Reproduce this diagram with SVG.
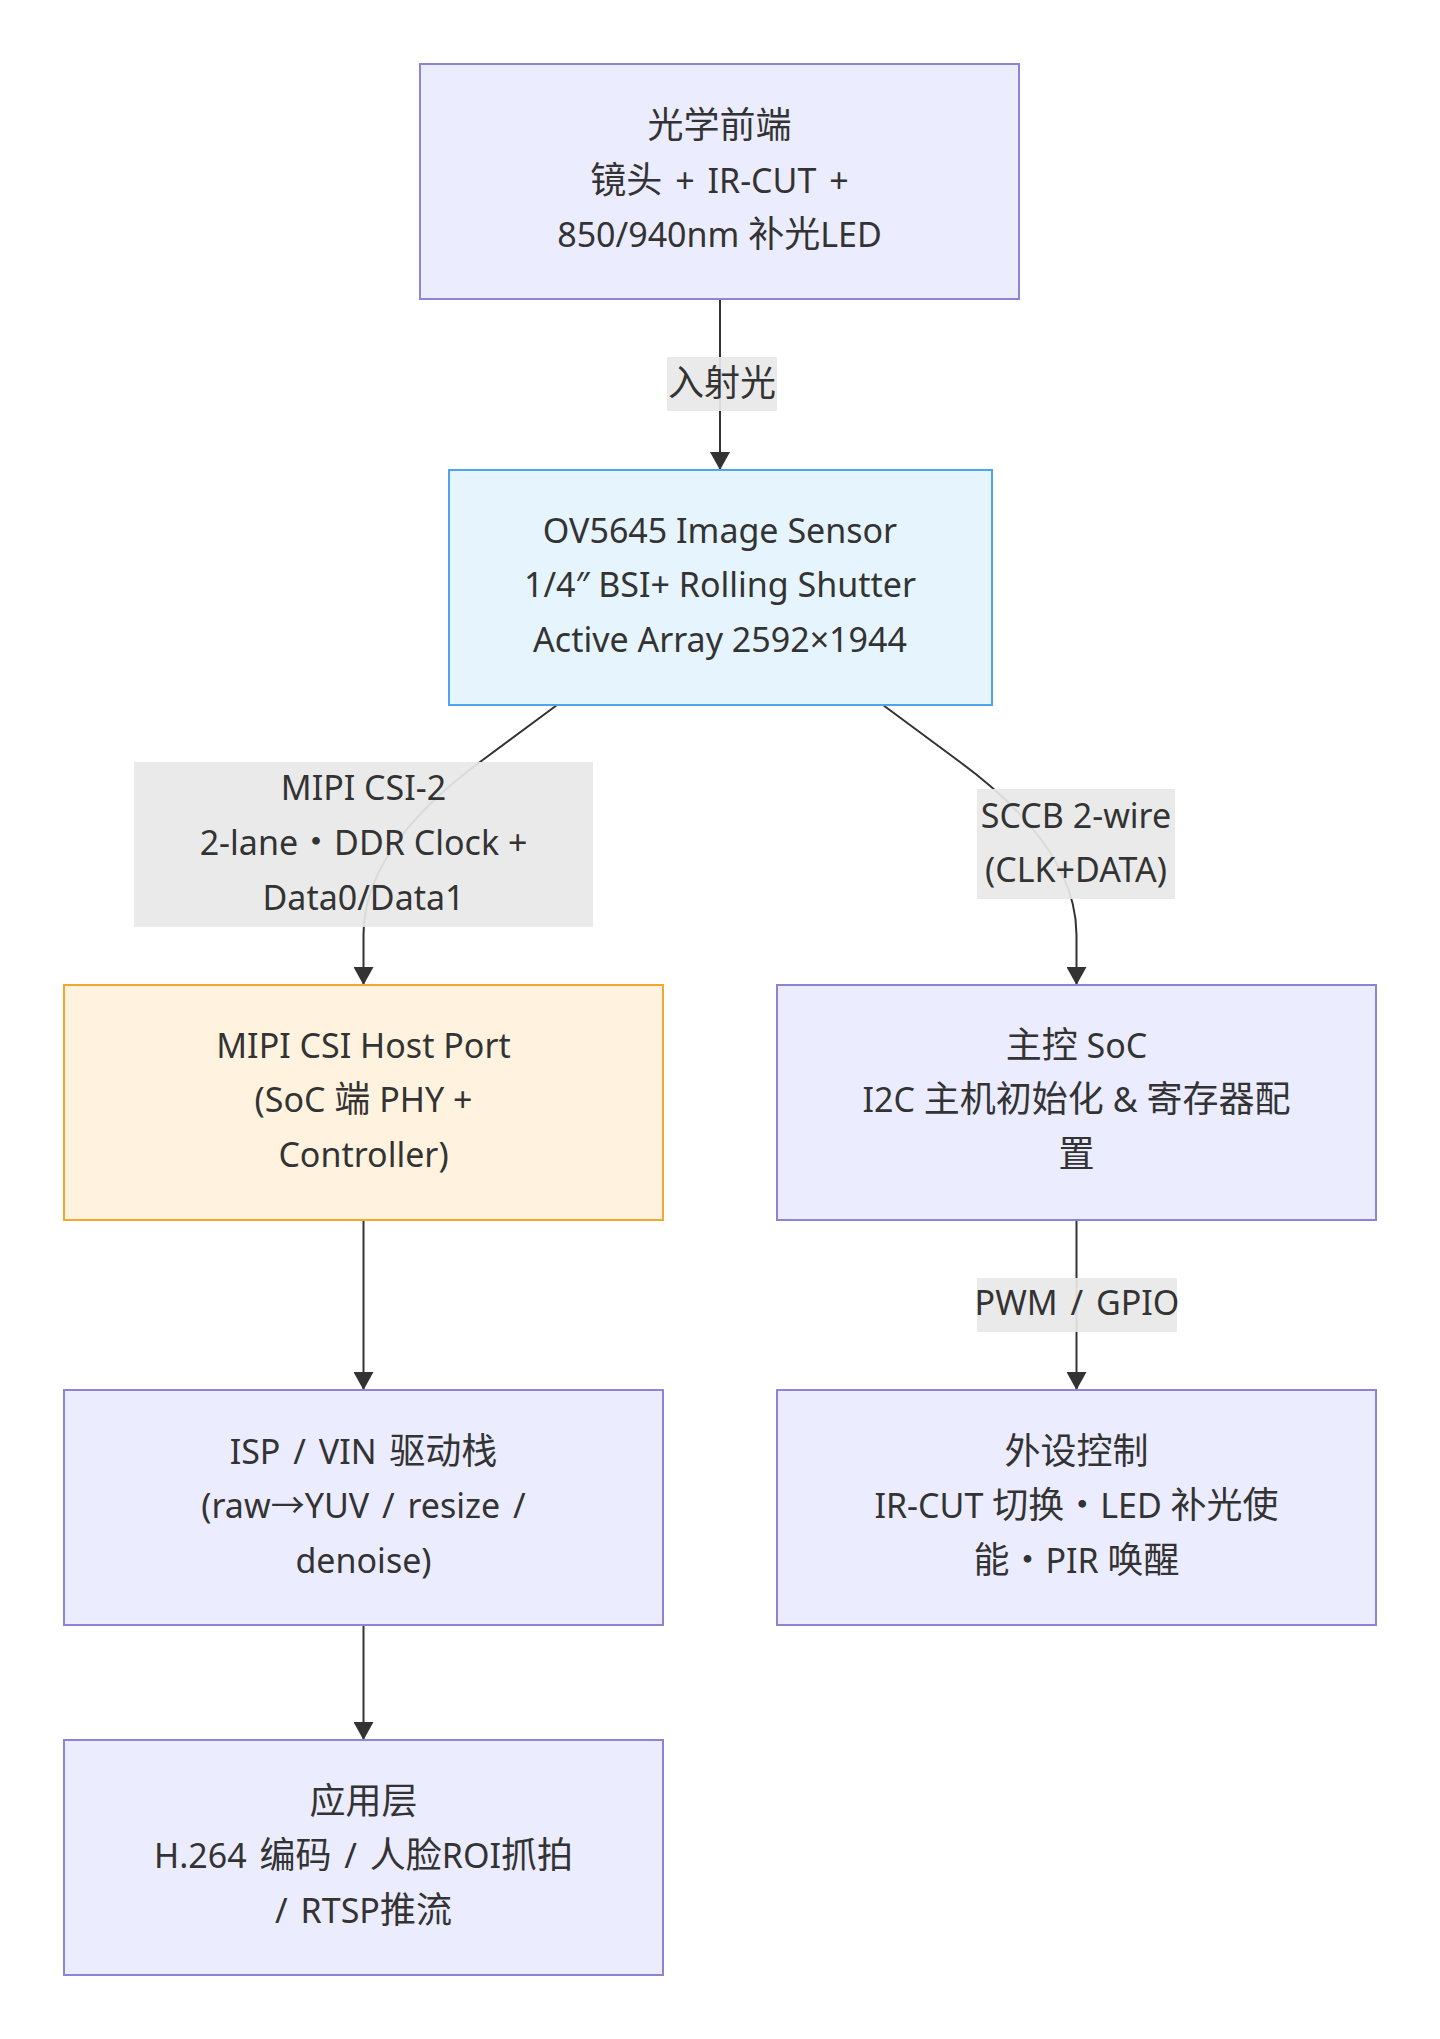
<svg xmlns="http://www.w3.org/2000/svg" width="1440" height="2039" viewBox="0 0 1440 2039">
<defs>
<style>
.node rect{stroke-width:2}
.def rect{fill:#ECECFF;stroke:#8E83D4}
.sensor rect{fill:#E6F4FD;stroke:#4FA3E8}
.host rect{fill:#FFF3E0;stroke:#F0A830}
text{font-family:"Noto Sans","Noto Sans CJK SC",sans-serif;font-size:34px;fill:#333;text-anchor:middle}
.c{font-size:36px}
.ws{word-spacing:4px}
.edge{fill:none;stroke:#333;stroke-width:2}
.lbl rect{fill:#E8E8E8;fill-opacity:0.92}
</style>
<marker id="arr" viewBox="0 0 18 20" refX="18" refY="10" markerWidth="18" markerHeight="20" markerUnits="userSpaceOnUse" orient="auto">
<path d="M0,0 L18,10 L0,20 z" fill="#333"/>
</marker>
</defs>
<rect x="0" y="0" width="1440" height="2039" fill="#FFFFFF"/>

<g id="connectors">
<path class="edge" d="M720,299 L720,470" marker-end="url(#arr)"/>
<path class="edge" d="M557,705 L480,762 Q363.5,848 363.5,935 L363.5,985" marker-end="url(#arr)"/>
<path class="edge" d="M883,705 L960,762 Q1076.5,848 1076.5,935 L1076.5,985" marker-end="url(#arr)"/>
<path class="edge" d="M363.5,1220 L363.5,1390" marker-end="url(#arr)"/>
<path class="edge" d="M1076.5,1220 L1076.5,1390" marker-end="url(#arr)"/>
<path class="edge" d="M363.5,1625 L363.5,1740" marker-end="url(#arr)"/>
<g class="lbl" id="label-incident">
<rect x="667" y="357" width="110" height="54"/>
<text x="722" y="396"><tspan class="c">入射光</tspan></text>
</g>
<g class="lbl" id="label-mipi">
<rect x="134" y="762" width="459" height="165"/>
<text x="363.5" y="800">MIPI CSI-2</text>
<text x="363.5" y="855">2-lane<tspan class="c">・</tspan>DDR Clock +</text>
<text x="363.5" y="910">Data0/Data1</text>
</g>
<g class="lbl" id="label-sccb">
<rect x="977" y="789" width="198" height="110"/>
<text x="1076" y="828">SCCB 2-wire</text>
<text x="1076" y="882">(CLK+DATA)</text>
</g>
<g class="lbl" id="label-pwm">
<rect x="977" y="1278" width="200" height="54"/>
<text x="1077" y="1315" class="ws">PWM / GPIO</text>
</g>
</g>

<g id="optics" class="node def">
<rect x="420" y="64" width="599" height="235"/>
<text x="719.5" y="138"><tspan class="c">光学前端</tspan></text>
<text x="719.5" y="193" class="ws"><tspan class="c">镜头</tspan> + IR-CUT +</text>
<text x="719.5" y="247">850/940nm <tspan class="c">补光</tspan>LED</text>
</g>

<g id="sensor" class="node sensor">
<rect x="449" y="470" width="543" height="235"/>
<text x="720" y="543">OV5645 Image Sensor</text>
<text x="720" y="597">1/4″ BSI+ Rolling Shutter</text>
<text x="720" y="652">Active Array 2592×1944</text>
</g>

<g id="csihost" class="node host">
<rect x="64" y="985" width="599" height="235"/>
<text x="363.5" y="1058">MIPI CSI Host Port</text>
<text x="363.5" y="1112">(SoC <tspan class="c">端</tspan> PHY +</text>
<text x="363.5" y="1167">Controller)</text>
</g>

<g id="soc" class="node def">
<rect x="777" y="985" width="599" height="235"/>
<text x="1076.5" y="1058"><tspan class="c">主控</tspan> SoC</text>
<text x="1076.5" y="1112">I2C <tspan class="c">主机初始化</tspan> &amp; <tspan class="c">寄存器配</tspan></text>
<text x="1076.5" y="1167"><tspan class="c">置</tspan></text>
</g>

<g id="isp" class="node def">
<rect x="64" y="1390" width="599" height="235"/>
<text x="363.5" y="1464" class="ws">ISP / VIN <tspan class="c">驱动栈</tspan></text>
<text x="363.5" y="1518" class="ws">(raw→YUV / resize /</text>
<text x="363.5" y="1573">denoise)</text>
</g>

<g id="periph" class="node def">
<rect x="777" y="1390" width="599" height="235"/>
<text x="1076.5" y="1464"><tspan class="c">外设控制</tspan></text>
<text x="1076.5" y="1518">IR-CUT <tspan class="c">切换・</tspan>LED <tspan class="c">补光使</tspan></text>
<text x="1076.5" y="1573"><tspan class="c">能・</tspan>PIR <tspan class="c">唤醒</tspan></text>
</g>

<g id="app" class="node def">
<rect x="64" y="1740" width="599" height="235"/>
<text x="363.5" y="1814"><tspan class="c">应用层</tspan></text>
<text x="363.5" y="1868" class="ws">H.264 <tspan class="c">编码</tspan> / <tspan class="c">人脸</tspan>ROI<tspan class="c">抓拍</tspan></text>
<text x="363.5" y="1923" class="ws">/ RTSP<tspan class="c">推流</tspan></text>
</g>
</svg>
